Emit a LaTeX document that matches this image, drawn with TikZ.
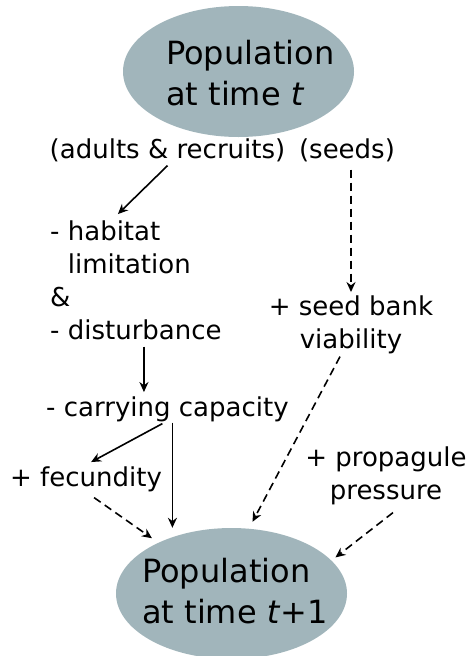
\documentclass[tikz,border=0pt]{standalone}
\usepackage{fontspec}
\setmainfont{DejaVu Sans}
\usetikzlibrary{arrows.meta,positioning,shapes.geometric}
\definecolor{popfill}{RGB}{161,181,187}

\begin{document}
\begin{tikzpicture}[
  x=1pt, y=-1pt,
  pop/.style={ellipse, fill=popfill, minimum width=231pt, minimum height=131pt,
              inner sep=0pt},
  poptext/.style={align=left, inner sep=0pt, font=\fontsize{32}{41}\selectfont},
  lab/.style={inner sep=0pt, font=\fontsize{26}{33}\selectfont},
  arr/.style={-{Stealth[length=10pt,width=9pt]}, line width=1.6pt},
  darr/.style={arr, dash pattern=on 8pt off 5pt}
]
\useasboundingbox (0,0) rectangle (467,656);
% --- populations ---
\node[pop] (pop0) at (238.5,71.5) {};
\node[poptext, anchor=base west] (pop0txt) at (166,105) {Population\\at time \textit{t}};
\node[pop] (pop1) at (231.5,593.5) {};
\node[poptext, anchor=base west] (pop1txt) at (142,623) {Population\\at time \textit{t}+1};
% --- processes ---
\node[lab, anchor=base] (adults) at (167.5,158) {(adults \& recruits)};
\node[lab, anchor=base] (seeds) at (347,158) {(seeds)};
\node[lab, align=left, anchor=base west] (habitat) at (50,339)
  {- habitat\\\phantom{- }limitation\\\&\\- disturbance};
\node[lab, align=center, anchor=base] (seedbank) at (351,348) {+ seed bank\\viability};
\node[lab, anchor=base west] (carrying) at (46,416) {- carrying capacity};
\node[lab, anchor=base west] (fecundity) at (10,486) {+ fecundity};
\node[lab, align=center, anchor=base] (propagule) at (386,499) {+ propagule\\pressure};
% --- arrows ---
\draw[arr] ([yshift=-4pt]adults.south) -- ([xshift=-18pt,yshift=6pt]habitat.north);
\draw[darr] (seedbank.north |- seeds.south) ++(0,8) -- ([yshift=3pt]seedbank.north);
\draw[arr] ([xshift=8pt,yshift=-7pt]habitat.south) -- ([xshift=8pt,yshift=4pt]habitat.south |- carrying.north);
\draw[arr] ([xshift=-5pt,yshift=-2pt]carrying.south) -- ([xshift=5pt,yshift=4pt]fecundity.north);
\draw[arr] ([xshift=5pt,yshift=-1pt]carrying.south) -- ([xshift=5pt]carrying.south |- pop1.north);
\draw[darr] ([xshift=8pt,yshift=-6pt]fecundity.south) -- ([shift={(-5pt,5pt)}]pop1.146);
\draw[darr] ([xshift=-11pt,yshift=-3pt]seedbank.south) -- ([xshift=21pt,yshift=6pt]pop1.north);
\draw[darr] ([xshift=7pt,yshift=-8pt]propagule.south) -- ([shift={(5pt,2pt)}]pop1.19);
\end{tikzpicture}
\end{document}
